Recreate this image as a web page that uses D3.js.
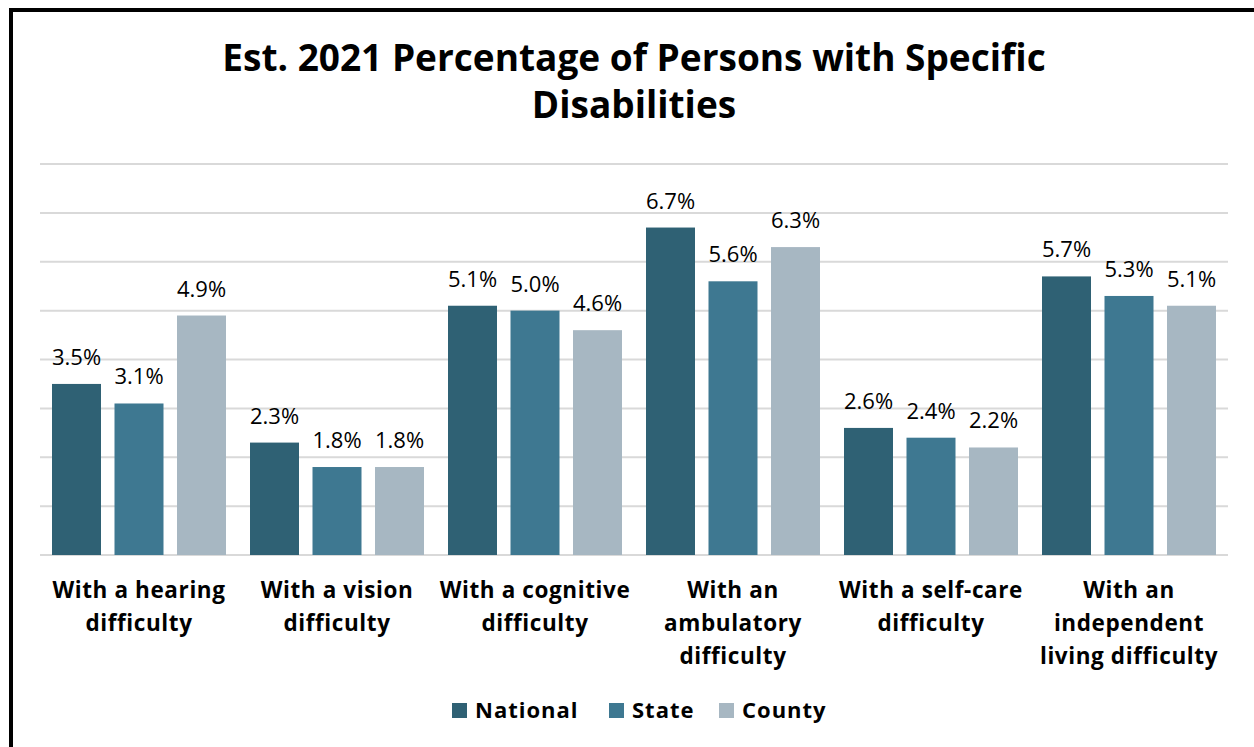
<!DOCTYPE html>
<html><head><meta charset="utf-8">
<script src="https://cdn.jsdelivr.net/npm/d3@7"></script>
<style>body{margin:0;background:#fff;} svg{display:block;font-family:"Open Sans",sans-serif;}</style>
</head><body>
<svg id="c" width="1254" height="747"></svg>
<script>
const categories = [["With a hearing","difficulty"],["With a vision","difficulty"],["With a cognitive","difficulty"],["With an","ambulatory","difficulty"],["With a self-care","difficulty"],["With an","independent","living difficulty"]];
const seriesNames = ["National","State","County"];
const national = [3.5,2.3,5.1,6.7,2.6,5.7];
const state = [3.1,1.8,5.0,5.6,2.4,5.3];
const county = [4.9,1.8,4.6,6.3,2.2,5.1];
const colors = ["#2f6174","#3e7891","#a7b7c2"];
const yTicks = [0,1,2,3,4,5,6,7,8];

const svg = d3.select("#c");
svg.append("rect").attr("x",11).attr("y",10).attr("width",1260).attr("height",760).attr("fill","none").attr("stroke","#000").attr("stroke-width",4);

svg.append("text").attr("x",634).attr("y",71).attr("text-anchor","middle").attr("font-size",37).attr("font-weight",700).text("Est. 2021 Percentage of Persons with Specific");
svg.append("text").attr("x",634).attr("y",118).attr("text-anchor","middle").attr("font-size",37).attr("font-weight",700).text("Disabilities");

const x0 = d3.scaleBand().domain(d3.range(categories.length)).range([40,1228]).paddingInner(0).paddingOuter(0);
const x1 = d3.scaleBand().domain(seriesNames).range([12,186]).paddingInner(0.216).paddingOuter(0);
const y = d3.scaleLinear().domain([0,8]).range([555,164]);

const g = svg.append("g");
g.selectAll("line.grid").data(yTicks).join("line").attr("class","grid")
 .attr("x1",40).attr("x2",1228).attr("y1",d=>y(d)).attr("y2",d=>y(d))
 .attr("stroke","#d9d9d9").attr("stroke-width",2);

const series = [national,state,county];
series.forEach((vals,si)=>{
  const name = seriesNames[si];
  g.selectAll("rect.s"+si).data(vals).join("rect").attr("class","s"+si)
   .attr("x",(d,i)=>x0(i)+x1(name)).attr("width",x1.bandwidth())
   .attr("y",d=>y(d)).attr("height",d=>y(0)-y(d)).attr("fill",colors[si]);
  g.selectAll("text.l"+si).data(vals).join("text").attr("class","l"+si)
   .attr("x",(d,i)=>x0(i)+x1(name)+x1.bandwidth()/2).attr("y",d=>y(d)-19)
   .attr("text-anchor","middle").attr("font-size",22).attr("fill","#000")
   .text(d=>d.toFixed(1)+"%");
});

categories.forEach((lines,i)=>{
  const cx = x0(i)+x0.bandwidth()/2;
  const t = svg.append("text").attr("x",cx).attr("y",598).attr("text-anchor","middle")
   .attr("font-size",22.5).attr("font-weight",700).attr("letter-spacing",0.6);
  lines.forEach((ln,j)=>t.append("tspan").attr("x",cx).attr("dy",j?33:0).text(ln));
});

const legX = [452,609,719];
seriesNames.forEach((n,i)=>{
  svg.append("rect").attr("x",legX[i]).attr("y",703).attr("width",15).attr("height",15).attr("fill",colors[i]);
  svg.append("text").attr("x",legX[i]+23).attr("y",718).attr("font-size",22).attr("font-weight",700).attr("letter-spacing",1).text(n);
});
</script>
</body></html>
